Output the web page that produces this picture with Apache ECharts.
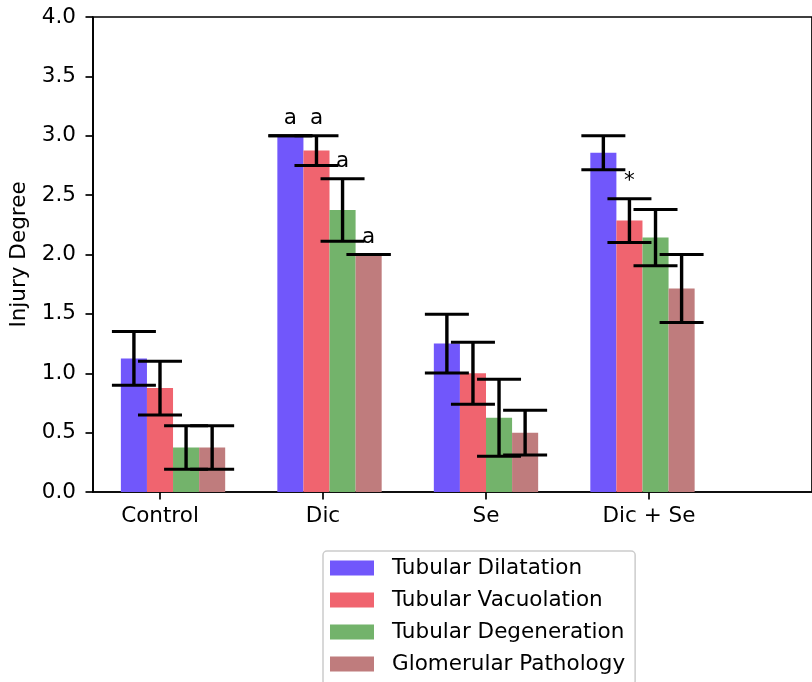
<!DOCTYPE html>
<html>
<head>
<meta charset="utf-8">
<script src="https://cdn.jsdelivr.net/npm/echarts@6/dist/echarts.min.js"></script>
<style>html,body{margin:0;padding:0;background:#fff}#c{width:812px;height:682px}</style>
</head>
<body>
<div id="c"></div>
<script>
// ---- data ----
const categories = ['Control', 'Dic', 'Se', 'Dic + Se'];
const tickPos = [0, 1, 2, 3];
const groupPos = [0.08, 1.04, 2.0, 2.96];
const seriesNames = ['Tubular Dilatation', 'Tubular Vacuolation', 'Tubular Degeneration', 'Glomerular Pathology'];
const dilatation   = [1.125, 3.0,   1.25,  2.857];
const vacuolation  = [0.875, 2.875, 1.0,   2.286];
const degeneration = [0.375, 2.375, 0.625, 2.143];
const glomerular   = [0.375, 2.0,   0.5,   1.714];
const dilatationErr   = [0.227, 0.0,   0.247, 0.143];
const vacuolationErr  = [0.227, 0.125, 0.262, 0.184];
const degenerationErr = [0.183, 0.263, 0.324, 0.237];
const glomerularErr   = [0.183, 0.0,   0.189, 0.286];
const dilatationMark   = ['', 'a', '', ''];
const vacuolationMark  = ['', 'a', '', '*'];
const degenerationMark = ['', 'a', '', ''];
const glomerularMark   = ['', 'a', '', ''];
const yTicks = [0, 0.5, 1, 1.5, 2, 2.5, 3, 3.5, 4];

const means = [dilatation, vacuolation, degeneration, glomerular];
const errs = [dilatationErr, vacuolationErr, degenerationErr, glomerularErr];
const marks = [dilatationMark, vacuolationMark, degenerationMark, glomerularMark];
const colors = ['#7157fb', '#f0646f', '#73b36b', '#bf7c7d'];
const barW = 0.16;
const FS = 21.5;
const FF = 'DejaVu Sans';

function barX(g, k) { return groupPos[g] + (k - 1.5) * barW; }

const series = [];
means.forEach((arr, k) => {
  series.push({
    name: seriesNames[k],
    type: 'custom',
    itemStyle: { color: colors[k] },
    data: arr.map((v, g) => [g, v]),
    renderItem: function (params, api) {
      const g = api.value(0), v = api.value(1);
      const cx = barX(g, k);
      const p1 = api.coord([cx - barW / 2, v]);
      const p2 = api.coord([cx + barW / 2, 0]);
      return { type: 'rect', shape: { x: p1[0], y: p1[1], width: p2[0] - p1[0], height: p2[1] - p1[1] },
               style: { fill: colors[k] } };
    },
    z: 2
  });
});
const errData = [];
means.forEach((arr, k) => arr.forEach((v, g) => errData.push([g, k, v, errs[k][g]])));
series.push({
  name: 'err',
  type: 'custom',
  data: errData,
  z: 5,
  renderItem: function (params, api) {
    const g = api.value(0), k = api.value(1), v = api.value(2), e = api.value(3);
    const cx = barX(g, k);
    const top = api.coord([cx, v + e]);
    const bot = api.coord([cx, v - e]);
    const cap = 22;
    const ls = { stroke: '#000', lineWidth: 3.4 };
    const children = [
      { type: 'line', shape: { x1: top[0], y1: top[1], x2: bot[0], y2: bot[1] }, style: ls },
      { type: 'line', shape: { x1: top[0] - cap, y1: top[1], x2: top[0] + cap, y2: top[1] }, style: { stroke: '#000', lineWidth: 3 } },
      { type: 'line', shape: { x1: bot[0] - cap, y1: bot[1], x2: bot[0] + cap, y2: bot[1] }, style: { stroke: '#000', lineWidth: 3 } }
    ];
    const m = marks[k][g];
    if (m) {
      const tp = api.coord([cx, v + e + 0.05]);
      children.push({ type: 'text', x: tp[0], y: tp[1],
        style: { text: m, fill: '#000', font: FS + 'px "' + FF + '"', textAlign: 'center', textVerticalAlign: 'bottom' } });
    }
    return { type: 'group', children: children };
  }
});

const chart = echarts.init(document.getElementById('c'));
chart.setOption({
  animation: false,
  backgroundColor: '#fff',
  textStyle: { fontFamily: FF },
  grid: { left: 93, top: 17, right: -10, bottom: 190, show: true, borderColor: '#000', borderWidth: 1.7, backgroundColor: 'transparent' },
  legend: {
    orient: 'vertical', left: 323, top: 551, height: 200, padding: [6, 10, 10, 7],
    itemWidth: 44, itemHeight: 15, itemGap: 10, icon: 'rect',
    borderColor: '#cccccc', borderWidth: 1.5, borderRadius: 4, backgroundColor: '#fff',
    textStyle: { fontSize: FS, color: '#000', fontFamily: FF, padding: [0, 0, 0, 13] },
    data: seriesNames
  },
  xAxis: {
    type: 'value', min: -0.411, max: 4.0,
    axisLine: { show: true, onZero: false, lineStyle: { color: '#000', width: 1.7 } },
    axisTick: { show: true, length: 7.5, lineStyle: { color: '#000', width: 1.7 }, customValues: tickPos },
    axisLabel: { show: true, margin: 13, fontSize: FS, color: '#000', fontFamily: FF, customValues: tickPos,
      formatter: function (v) { return categories[Math.round(v)]; } },
    splitLine: { show: false }
  },
  yAxis: {
    type: 'value', min: 0, max: 4, interval: 0.5,
    name: 'Injury Degree', nameLocation: 'middle', nameGap: 57,
    nameTextStyle: { fontSize: FS, color: '#000', fontFamily: FF },
    axisLine: { show: true, onZero: false, lineStyle: { color: '#000', width: 1.7 } },
    axisTick: { show: true, length: 7.5, lineStyle: { color: '#000', width: 1.7 }, customValues: yTicks },
    axisLabel: { margin: 17, fontSize: FS, color: '#000', fontFamily: FF, customValues: yTicks,
      formatter: function (v) { return v.toFixed(1); } },
    splitLine: { show: false }
  },
  series: series
});
</script>
</body>
</html>
